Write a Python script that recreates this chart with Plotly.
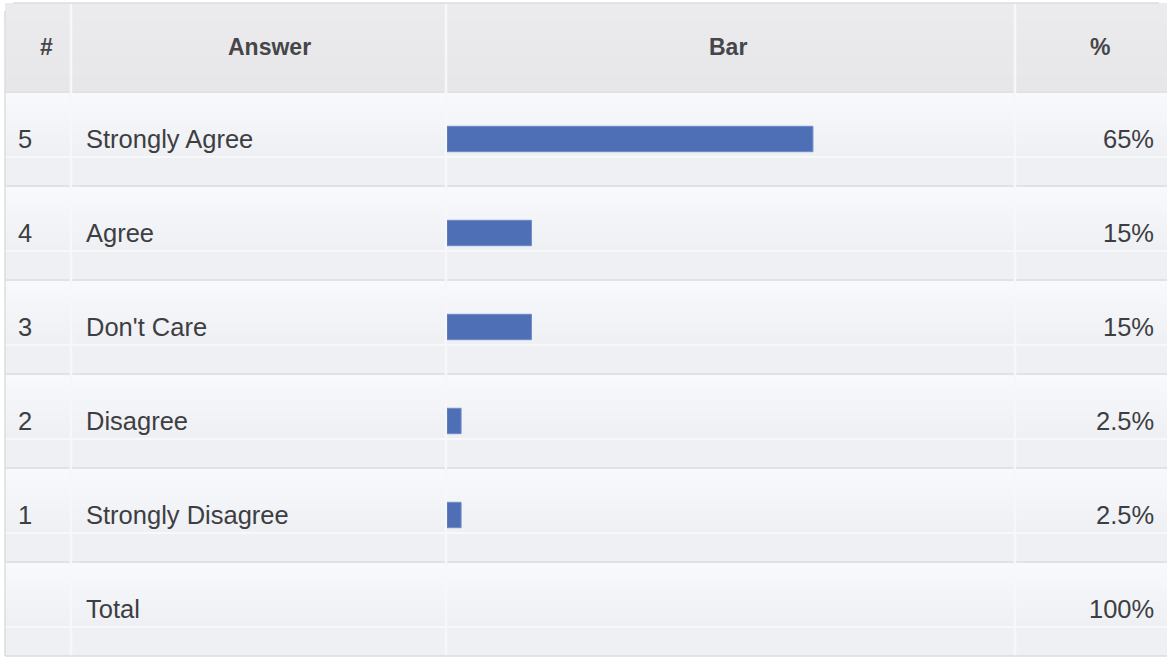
import plotly.graph_objects as go

# ---- data ----
row_numbers = ["5", "4", "3", "2", "1"]
answers = ["Strongly Agree", "Agree", "Don't Care", "Disagree", "Strongly Disagree"]
percents = [65, 15, 15, 2.5, 2.5]
percent_labels = ["65%", "15%", "15%", "2.5%", "2.5%"]
total_label = "Total"
total_percent = "100%"
headers = ["#", "Answer", "Bar", "%"]

W, H = 1167, 657
LEFT, RIGHT = 5, 1167
TOP, HEAD_BOTTOM, BOTTOM = 3, 92, 656
COL_X = [LEFT, 71, 446, 1015, RIGHT]
ROW_H = (BOTTOM - HEAD_BOTTOM) / 6.0

TEXT = "#3e3e42"
FONT = "Liberation Sans, Arial, Helvetica, sans-serif"
BODY_SIZE = 25.5


def lerp_color(c0, c1, t):
    a = [int(c0[i:i + 2], 16) for i in (1, 3, 5)]
    b = [int(c1[i:i + 2], 16) for i in (1, 3, 5)]
    return "#" + "".join(f"{round(x + (y - x) * t):02x}" for x, y in zip(a, b))


fig = go.Figure()

categories = answers + [total_label]

fig.add_trace(go.Bar(
    x=percents, y=answers, orientation="h",
    xaxis="x2", yaxis="y2",
    width=0.27,
    marker=dict(color="#4e6fb5", line=dict(color="#6f8bc7", width=1)),
    hoverinfo="skip", showlegend=False,
))

shapes = []
# header background (soft gradient)
steps = 10
for k in range(steps):
    y0 = TOP + (HEAD_BOTTOM - TOP) * k / steps
    y1 = TOP + (HEAD_BOTTOM - TOP) * (k + 1) / steps + 0.5
    shapes.append(dict(type="rect", xref="x", yref="y", x0=LEFT, x1=RIGHT, y0=y0, y1=y1,
                       fillcolor=lerp_color("#ebebed", "#e7e7e9", k / (steps - 1)),
                       line=dict(width=0), layer="below"))
# rows
for i in range(6):
    top = HEAD_BOTTOM + i * ROW_H
    band = top + 65
    for k in range(steps):
        y0 = top + (band - top) * k / steps
        y1 = top + (band - top) * (k + 1) / steps + 0.5
        shapes.append(dict(type="rect", xref="x", yref="y", x0=LEFT, x1=RIGHT, y0=y0, y1=y1,
                           fillcolor=lerp_color("#f8f9fc", "#eef0f4", k / (steps - 1)),
                           line=dict(width=0), layer="below"))
    shapes.append(dict(type="rect", xref="x", yref="y", x0=LEFT, x1=RIGHT, y0=band, y1=top + ROW_H,
                       fillcolor="#eff0f3", line=dict(width=0), layer="below"))
    shapes.append(dict(type="line", xref="x", yref="y", x0=LEFT, x1=RIGHT, y0=band, y1=band,
                       line=dict(color="#fafbfd", width=1.5), layer="below"))
    shapes.append(dict(type="line", xref="x", yref="y", x0=LEFT, x1=RIGHT, y0=top, y1=top,
                       line=dict(color="#e1e2e5", width=2), layer="below"))
# column separators
for cx in COL_X[1:-1]:
    shapes.append(dict(type="line", xref="x", yref="y", x0=cx, x1=cx, y0=TOP, y1=BOTTOM,
                       line=dict(color="#f7f7f9", width=2.5), layer="below"))
# outer border
shapes.append(dict(type="line", xref="x", yref="y", x0=LEFT, x1=LEFT, y0=TOP + 8, y1=BOTTOM,
                   line=dict(color="#dcdcdf", width=1.5), layer="below"))
shapes.append(dict(type="line", xref="x", yref="y", x0=LEFT + 8, x1=RIGHT - 8, y0=TOP, y1=TOP,
                   line=dict(color="#dcdcdf", width=1.5), layer="below"))
shapes.append(dict(type="line", xref="x", yref="y", x0=LEFT, x1=RIGHT, y0=BOTTOM, y1=BOTTOM,
                   line=dict(color="#dcdcdf", width=1.5), layer="below"))

annotations = []
# headers
head_x = [46, 269, 728, 1100]
for hx, h in zip(head_x, headers):
    annotations.append(dict(xref="x", yref="y", x=hx, y=47, text=f"<b>{h}</b>", showarrow=False,
                            xanchor="center", yanchor="middle",
                            font=dict(family=FONT, size=23, color="#45454a")))
# rows
for num, ans, pl in zip(row_numbers, answers, percent_labels):
    annotations.append(dict(xref="x", yref="y2", x=16, y=ans, text=num, showarrow=False,
                            xanchor="left", yanchor="middle",
                            font=dict(family=FONT, size=BODY_SIZE, color=TEXT)))
    annotations.append(dict(xref="x", yref="y2", x=84, y=ans, text=ans, showarrow=False,
                            xanchor="left", yanchor="middle",
                            font=dict(family=FONT, size=BODY_SIZE, color=TEXT)))
    annotations.append(dict(xref="x", yref="y2", x=1156, y=ans, text=pl, showarrow=False,
                            xanchor="right", yanchor="middle",
                            font=dict(family=FONT, size=BODY_SIZE, color=TEXT)))
annotations.append(dict(xref="x", yref="y2", x=84, y=total_label, text=total_label, showarrow=False,
                        xanchor="left", yanchor="middle",
                        font=dict(family=FONT, size=BODY_SIZE, color=TEXT)))
annotations.append(dict(xref="x", yref="y2", x=1156, y=total_label, text=total_percent, showarrow=False,
                        xanchor="right", yanchor="middle",
                        font=dict(family=FONT, size=BODY_SIZE, color=TEXT)))

fig.update_layout(
    width=W, height=H,
    margin=dict(l=0, r=0, t=0, b=0, pad=0),
    paper_bgcolor="white", plot_bgcolor="rgba(0,0,0,0)",
    xaxis=dict(range=[0, W], domain=[0, 1], visible=False, fixedrange=True),
    yaxis=dict(range=[H, 0], domain=[0, 1], visible=False, fixedrange=True),
    xaxis2=dict(domain=[447 / W, 1015 / W], range=[0, 100.9], visible=False, anchor="y2",
                fixedrange=True),
    yaxis2=dict(domain=[1 - BOTTOM / H, 1 - HEAD_BOTTOM / H], type="category",
                categoryorder="array", categoryarray=categories,
                range=[len(categories) - 0.5, -0.5], visible=False, anchor="x2", fixedrange=True),
    shapes=shapes, annotations=annotations,
    showlegend=False,
)

fig.write_html("out.html")
